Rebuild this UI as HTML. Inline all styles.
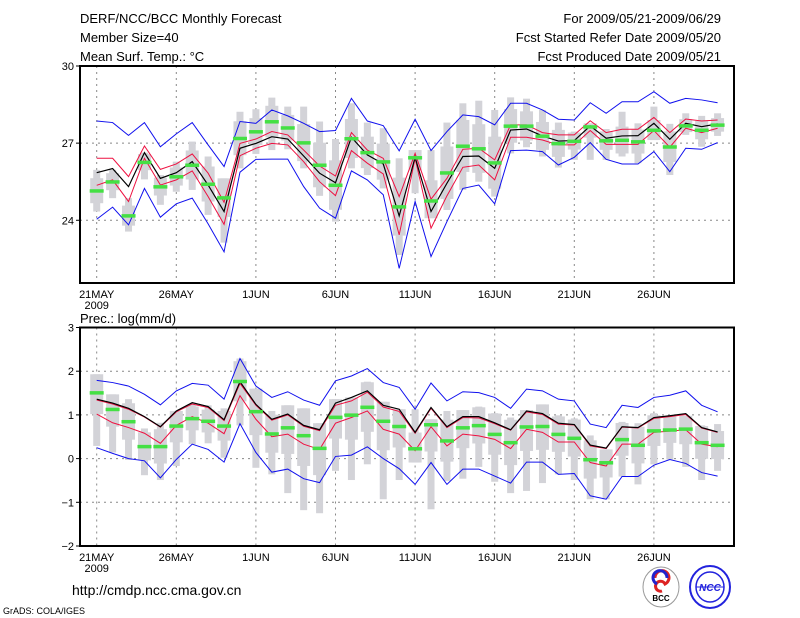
<!DOCTYPE html>
<html><head><meta charset="utf-8"><style>
html,body{margin:0;padding:0;background:#fff;}
svg{display:block;font-family:"Liberation Sans",sans-serif;}
</style></head><body>
<svg id="chart" width="800" height="618" viewBox="0 0 800 618" xmlns="http://www.w3.org/2000/svg">
<rect width="800" height="618" fill="#fff"/>
<g font-size="13" fill="#000">
<text x="80" y="23">DERF/NCC/BCC Monthly Forecast</text>
<text x="80" y="42">Member Size=40</text>
<text x="80" y="61">Mean Surf. Temp.: °C</text>
<text x="721" y="23" text-anchor="end">For 2009/05/21-2009/06/29</text>
<text x="721" y="42" text-anchor="end">Fcst Started Refer Date 2009/05/20</text>
<text x="721" y="61" text-anchor="end">Fcst Produced Date 2009/05/21</text>
<text x="80" y="323">Prec.: log(mm/d)</text>
<text x="72" y="595" font-size="14">http://cmdp.ncc.cma.gov.cn</text>
<text x="3" y="614" font-size="9">GrADS: COLA/IGES</text>
</g>
<g>
<ellipse cx="661" cy="587" rx="18" ry="20" fill="#fff" stroke="#999"/>
<path d="M655 578 a7 7 0 1 1 10 6 a5 5 0 1 0 -3 7" fill="none" stroke="#d22" stroke-width="3"/>
<path d="M667 578 a7 7 0 1 0 -10 6" fill="none" stroke="#22c" stroke-width="3"/>
<text x="661" y="601" font-size="8" font-weight="bold" text-anchor="middle" fill="#000">BCC</text>
</g>
<g>
<ellipse cx="710" cy="587" rx="20" ry="21" fill="#fff" stroke="#22d" stroke-width="2"/>
<ellipse cx="710" cy="587" rx="14" ry="15" fill="none" stroke="#22d" stroke-width="1.5"/>
<line x1="696" y1="587" x2="724" y2="587" stroke="#22d"/>
<text x="710" y="591" font-size="10" font-style="italic" font-weight="bold" text-anchor="middle" fill="#22d">NCC</text>
</g>
<g id="plot"></g>
</svg>
<script>
// ---- data (day index 0 = 21 May 2009) ----
const dayLabels = ["21MAY","26MAY","1JUN","6JUN","11JUN","16JUN","21JUN","26JUN"];
const tTicks = [30,27,24];
const pTicks = [3,2,1,0,-1,-2];
const tMean = [25.85,26.01,25.31,26.63,25.63,25.85,26.28,25.37,24.34,26.80,26.99,27.25,27.16,26.50,25.83,25.46,27.23,26.54,26.19,24.17,26.45,24.34,25.44,26.48,26.50,26.02,27.51,27.55,27.28,27.08,27.10,27.67,27.19,27.28,27.29,27.77,27.15,27.77,27.64,27.75];
const tRedHi = [26.41,26.41,25.70,26.89,25.98,26.19,26.58,25.83,24.70,26.99,27.16,27.45,27.32,26.73,26.11,25.72,27.41,26.73,26.41,24.92,26.60,24.82,25.63,26.76,26.80,26.35,27.71,27.71,27.41,27.32,27.32,27.87,27.41,27.54,27.54,28.00,27.41,27.94,27.86,27.90];
const tRedLo = [25.36,25.57,24.73,26.41,25.37,25.57,25.92,24.92,23.84,26.51,26.80,26.99,26.93,26.28,25.50,24.96,26.71,26.22,25.80,23.43,26.41,23.69,24.95,26.06,26.15,25.57,27.23,27.23,27.12,26.93,26.93,27.49,26.95,26.95,26.95,27.49,26.84,27.58,27.41,27.58];
const tBlueHi = [27.86,27.80,27.30,27.80,26.86,27.36,27.80,26.93,26.09,27.84,27.77,28.29,28.06,27.77,27.45,27.49,28.74,27.86,27.68,26.70,27.93,26.71,27.45,28.10,28.03,27.71,28.55,28.55,28.29,27.93,27.90,28.57,28.16,28.61,28.61,29.00,28.55,28.74,28.68,28.57];
const tBlueLo = [24.04,24.51,23.82,25.24,24.12,24.64,24.86,23.86,22.77,25.87,26.37,26.38,26.38,25.31,24.47,24.08,25.92,25.57,24.99,22.13,24.73,22.59,23.95,25.24,25.37,24.64,26.71,26.73,26.67,26.15,26.45,27.02,26.37,26.19,26.19,26.67,25.89,26.80,26.76,27.02];
const tGreen = [25.15,25.50,24.18,26.26,25.31,25.70,26.15,25.41,24.88,27.19,27.45,27.84,27.60,27.02,26.15,25.37,27.18,26.64,26.28,24.53,26.44,24.76,25.85,26.89,26.79,26.24,27.67,27.67,27.28,26.99,27.08,27.64,27.10,27.12,27.06,27.51,26.86,27.68,27.51,27.71];
const tWhiskHi = [25.96,25.96,24.86,26.63,25.76,26.28,27.06,26.48,25.63,28.22,28.32,28.77,28.42,28.42,27.84,27.16,28.55,27.80,27.58,26.41,26.73,26.73,27.80,28.55,28.65,28.29,28.78,28.73,28.29,27.80,27.45,27.77,27.55,28.22,27.77,28.42,27.75,28.16,28.06,28.16];
const tWhiskLo = [24.34,24.86,23.56,25.59,24.60,25.11,25.18,24.21,23.13,26.02,26.58,26.73,26.76,26.02,24.95,23.95,26.02,25.76,25.24,22.65,25.05,24.08,24.40,25.18,25.50,24.92,26.60,26.84,26.48,26.05,26.35,26.35,26.35,26.48,26.22,27.12,25.76,27.32,26.86,27.28];
const pMean = [1.36,1.27,1.15,0.96,0.73,1.09,1.28,1.19,0.89,1.76,1.24,0.90,1.02,0.76,0.66,1.27,1.40,1.55,1.22,1.13,0.60,1.17,0.73,0.96,0.96,0.82,0.66,1.09,1.03,0.81,0.78,0.31,0.24,0.73,0.71,0.94,0.98,1.03,0.71,0.61];
const pRedHi = [1.34,1.25,1.13,0.95,0.72,1.07,1.25,1.17,0.87,1.72,1.22,0.88,1.00,0.74,0.64,1.22,1.32,1.52,1.18,1.08,0.58,1.15,0.71,0.94,0.93,0.80,0.65,1.07,1.01,0.79,0.77,0.29,0.23,0.72,0.70,0.92,0.96,1.01,0.70,0.60];
const pRedLo = [1.02,0.82,0.71,0.58,0.35,0.76,0.96,0.81,0.57,1.44,0.90,0.50,0.56,0.33,0.21,0.81,0.94,1.09,0.67,0.56,0.18,0.73,0.29,0.56,0.52,0.44,0.23,0.67,0.60,0.38,0.38,-0.09,-0.17,0.33,0.33,0.60,0.63,0.66,0.33,0.27];
const pBlueHi = [1.79,1.74,1.66,1.47,1.23,1.55,1.72,1.68,1.36,2.29,1.66,1.40,1.53,1.34,1.22,1.78,1.89,2.06,1.74,1.63,1.13,1.73,1.32,1.53,1.51,1.40,1.15,1.59,1.55,1.36,1.32,0.79,0.71,1.22,1.17,1.40,1.45,1.55,1.22,1.07];
const pBlueLo = [0.25,0.12,0,-0.05,-0.44,-0.02,0.33,0.21,-0.08,0.80,0.14,-0.31,-0.24,-0.46,-0.55,0.05,0.08,0.27,0,-0.23,-0.59,-0.09,-0.59,-0.24,-0.24,-0.40,-0.56,-0.08,-0.08,-0.36,-0.34,-0.85,-0.93,-0.41,-0.41,-0.15,-0.02,-0.11,-0.32,-0.40];
const pGreen = [1.51,1.13,0.85,0.28,0.28,0.75,0.92,0.86,0.75,1.77,1.08,0.57,0.71,0.53,0.24,0.95,1.00,1.18,0.86,0.74,0.23,0.78,0.41,0.71,0.76,0.56,0.37,0.73,0.74,0.56,0.47,-0.02,-0.09,0.44,0.31,0.64,0.66,0.68,0.37,0.31];
const pWhiskHi = [1.93,1.47,1.36,0.69,0.82,1.09,1.24,1.22,1.15,2.29,1.60,1.09,1.22,1.15,0.81,1.36,1.40,1.76,1.30,1.13,1.13,0.90,1.09,1.11,1.19,1.04,0.94,1.11,1.24,0.99,0.92,0.53,0.21,0.84,0.81,1.04,0.98,0.98,0.76,0.79];
const pWhiskLo = [0.29,0.14,-0.03,-0.38,-0.49,-0.17,0.33,0.35,0.02,0.76,-0.21,-0.36,-0.79,-1.18,-1.25,-0.28,-0.49,-0.13,-0.93,-0.49,-0.09,-1.16,-0.51,-0.46,-0.19,-0.53,-0.79,-0.74,-0.56,-0.36,-0.49,-0.93,-0.93,-0.41,-0.59,-0.13,-0.02,-0.19,-0.49,-0.28];

const NS = "http://www.w3.org/2000/svg";
const plot = document.getElementById("plot");
const X0 = 80, X1 = 734;
const xDay = i => 96.7 + i * 15.92;
function el(tag, attrs, parent) {
  const e = document.createElementNS(NS, tag);
  for (const k in attrs) e.setAttribute(k, attrs[k]);
  (parent || plot).appendChild(e);
  return e;
}
function panel(name, top, bottom, vmax, vmin, ticks, mean, rHi, rLo, bHi, bLo, green, wHi, wLo) {
  const g = el("g", {});
  
  
  const y = v => top + (vmax - v) / (vmax - vmin) * (bottom - top);
  // grid
  ticks.forEach(t => {
    if (t === vmax || t === vmin) return;
    const l = el("line", {x1: X0, x2: X1, y1: y(t), y2: y(t), stroke: "#888", "stroke-dasharray": "2,4", "stroke-width": 1}, g);
    
    
  });
  dayLabels.forEach((lab, k) => {
    const x = xDay(k * 5);
    const l = el("line", {x1: x, x2: x, y1: top, y2: bottom, stroke: "#888", "stroke-dasharray": "2,4", "stroke-width": 1}, g);
    
    
    const t = el("text", {x: x, y: bottom + 15, "font-size": 11, "text-anchor": "middle"}, g);
    
    
    t.textContent = lab;
  });
  const yr = el("text", {x: xDay(0), y: bottom + 26, "font-size": 11, "text-anchor": "middle"}, g);
  
  
  yr.textContent = "2009";
  ticks.forEach(t => {
    const tx = el("text", {x: X0 - 6, y: y(t) + 4, "font-size": 11, "text-anchor": "end"}, g);
    
    
    tx.textContent = String(t).replace("-", "−");
    el("line", {x1: X0 - 4, x2: X0, y1: y(t), y2: y(t), stroke: "#000"}, g);
  });
  // boxes
  mean.forEach((_, i) => {
    const x = xDay(i);
    const w = el("rect", {x: x - 3.5, y: y(wHi[i]), width: 7, height: Math.max(1, y(wLo[i]) - y(wHi[i])), fill: "#d3d3d8"}, g);
    
    
    const span = wHi[i] - wLo[i];
    const bh = Math.min(wHi[i], green[i] + 0.3 * span), bl = Math.max(wLo[i], green[i] - 0.3 * span);
    const b = el("rect", {x: x - 6.5, y: y(bh), width: 13, height: Math.max(1, y(bl) - y(bh)), fill: "#d3d3d8"}, g);
    
    
  });
  const line = (arr, color, name, w) => {
    const p = el("polyline", {points: arr.map((v, i) => xDay(i) + "," + y(v)).join(" "), fill: "none", stroke: color, "stroke-width": w}, g);
    
    
  };
  line(bHi, "#1010ee", "max-line", 1);
  line(bLo, "#1010ee", "min-line", 1);
  line(rHi, "#ee1040", "upper-spread-line", 1);
  line(rLo, "#ee1040", "lower-spread-line", 1);
  line(mean, "#000", "ensemble-mean-line", 1.2);
  green.forEach((v, i) => {
    const m = el("rect", {x: xDay(i) - 7, y: y(v) - 1.5, width: 14, height: 3.5, fill: "#44e044"}, g);
    
    
  });
  const fr = el("rect", {x: X0, y: top, width: X1 - X0, height: bottom - top, fill: "none", stroke: "#000", "stroke-width": 2}, g);
  
  
}
panel("temperature-panel", 66, 283, 30, 21.56, tTicks, tMean, tRedHi, tRedLo, tBlueHi, tBlueLo, tGreen, tWhiskHi, tWhiskLo);
panel("precipitation-panel", 327.5, 546, 3, -2, pTicks, pMean, pRedHi, pRedLo, pBlueHi, pBlueLo, pGreen, pWhiskHi, pWhiskLo);
</script>
</body></html>
